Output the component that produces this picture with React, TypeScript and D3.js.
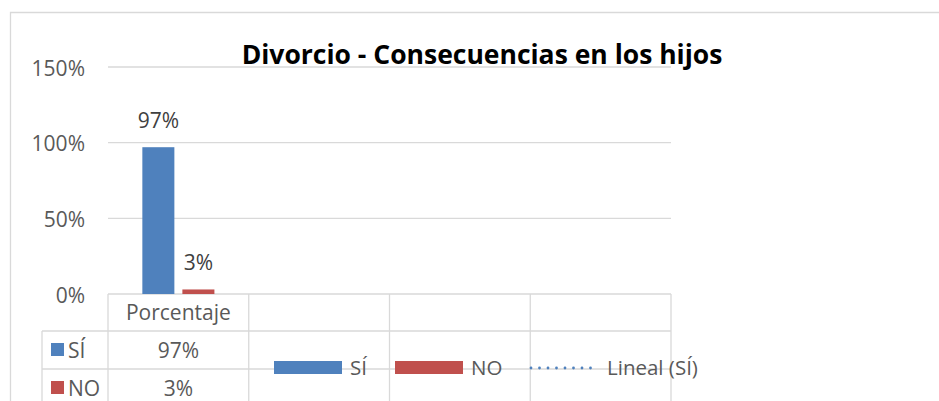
import React from "react";
import * as d3 from "d3";

const title = "Divorcio - Consecuencias en los hijos";
const categories = ["Porcentaje", "", "", ""];
const seriesNames = ["SÍ", "NO"];
const siValues: (number | null)[] = [0.97, null, null, null];
const noValues: (number | null)[] = [0.03, null, null, null];
const yTicks = [0, 0.5, 1, 1.5];
const legendTrend = "Lineal (SÍ)";

const colors = ["#4F81BD", "#C0504D"];
const gridColor = "#D9D9D9";
const textColor = "#595959";
const FONT = "'Open Sans', 'Liberation Sans', sans-serif";

export default function App() {
  const W = 939;
  const H = 401;
  const plotLeft = 108;
  const plotRight = 671;
  const y0 = 294;
  const y150 = 67;

  const x = d3
    .scaleBand<number>()
    .domain(categories.map((_, i) => i))
    .range([plotLeft, plotRight])
    .padding(0);
  const bw = x.bandwidth();
  const x1 = d3
    .scaleBand<string>()
    .domain(seriesNames)
    .range([bw * 0.244, bw * 0.756])
    .paddingInner(0.2)
    .paddingOuter(0);
  const y = d3.scaleLinear().domain([0, 1.5]).range([y0, y150]);
  const fmt = d3.format(".0%");
  const seriesValues = [siValues, noValues];

  const row1 = 331;
  const row2 = 369;
  const tableLeft = 42;

  return (
    <svg
      width={W}
      height={H}
      style={{ position: "absolute", left: 0, top: 0, background: "#fff" }}
      fontFamily={FONT}
    >
      <rect x={0} y={0} width={W} height={H} fill="#fff" />
      {/* outer chart border */}
      <path d={`M10.5,${H} V12.5 H${W}`} fill="none" stroke={gridColor} strokeWidth={1.3} />

      {/* title */}
      <text x={482} y={64} textAnchor="middle" fontSize={26.5} fontWeight="bold" fill="#000">
        {title}
      </text>

      {/* gridlines + y labels */}
      {yTicks.map((t) => (
        <g key={t}>
          <line x1={plotLeft} x2={plotRight} y1={y(t)} y2={y(t)} stroke={gridColor} strokeWidth={1.3} />
          <text x={85} y={y(t) + 1} dy="0.36em" textAnchor="end" fontSize={21} fill={textColor}>
            {fmt(t)}
          </text>
        </g>
      ))}

      {/* bars */}
      {categories.map((c, i) =>
        seriesValues.map((vals, s) => {
          const v = vals[i];
          if (v == null) return null;
          const bx = (x(i) as number) + (x1(seriesNames[s]) as number);
          return (
            <g key={`${i}-${s}`}>
              <rect x={bx} y={y(v)} width={x1.bandwidth()} height={y(0) - y(v)} fill={colors[s]} />
              <text
                x={bx + x1.bandwidth() / 2}
                y={y(v) - 19}
                textAnchor="middle"
                fontSize={21}
                fill="#404040"
              >
                {fmt(v)}
              </text>
            </g>
          );
        })
      )}

      {/* data table */}
      <g stroke={gridColor} strokeWidth={1.3}>
        {[...categories.map((_, i) => x(i) as number), plotRight].map((xx, i) => (
          <line key={i} x1={xx} x2={xx} y1={y0} y2={H} />
        ))}
        <line x1={tableLeft} x2={tableLeft} y1={row1} y2={H} />
        <line x1={tableLeft} x2={plotRight} y1={row1} y2={row1} />
        <line x1={tableLeft} x2={plotRight} y1={row2} y2={row2} />
      </g>
      {categories.map((c, i) => (
        <text
          key={`h${i}`}
          x={(x(i) as number) + bw / 2}
          y={(y0 + row1) / 2}
          dy="0.36em"
          textAnchor="middle"
          fontSize={21}
          fill={textColor}
        >
          {c}
        </text>
      ))}
      {seriesNames.map((name, s) => {
        const top = s === 0 ? row1 : row2;
        const mid = top + 19;
        return (
          <g key={name}>
            <rect x={51} y={mid - 7} width={13} height={13} fill={colors[s]} />
            <text x={68} y={mid} dy="0.36em" fontSize={21} fill={textColor}>
              {name}
            </text>
            {seriesValues[s].map((v, i) =>
              v == null ? null : (
                <text
                  key={i}
                  x={(x(i) as number) + bw / 2}
                  y={mid}
                  dy="0.36em"
                  textAnchor="middle"
                  fontSize={21}
                  fill={textColor}
                >
                  {fmt(v)}
                </text>
              )
            )}
          </g>
        );
      })}

      {/* legend */}
      <g>
        <rect x={274} y={361} width={68} height={13} fill={colors[0]} />
        <text x={350} y={368} dy="0.36em" fontSize={20.5} fill={textColor}>
          {seriesNames[0]}
        </text>
        <rect x={395} y={361} width={68} height={13} fill={colors[1]} />
        <text x={471} y={368} dy="0.36em" fontSize={20.5} fill={textColor}>
          {seriesNames[1]}
        </text>
        <line
          x1={531}
          x2={599}
          y1={368}
          y2={368}
          stroke={colors[0]}
          strokeWidth={2.8}
          strokeDasharray="0 8.5"
          strokeLinecap="round"
        />
        <text x={607} y={368} dy="0.36em" fontSize={20.5} fill={textColor}>
          {legendTrend}
        </text>
      </g>
    </svg>
  );
}
